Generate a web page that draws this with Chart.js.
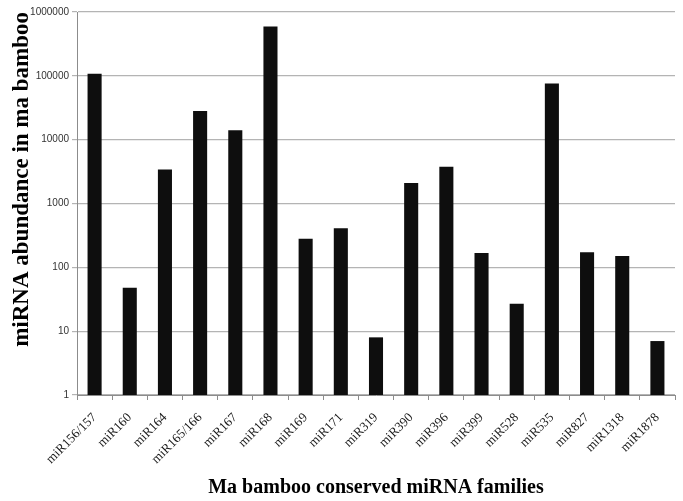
<!DOCTYPE html>
<html>
<head>
<meta charset="utf-8">
<script src="https://cdn.jsdelivr.net/npm/chart.js@4/dist/chart.umd.min.js"></script>
<style>
  html, body { margin: 0; padding: 0; background: #fff; }
  #wrap { width: 683px; height: 501px; }
</style>
</head>
<body>
<div id="wrap"><canvas id="mirnaChart"></canvas></div>
<script>
// miRNA families on the x axis
const families = ['miR156/157', 'miR160', 'miR164', 'miR165/166', 'miR167', 'miR168', 'miR169',
    'miR171', 'miR319', 'miR390', 'miR396', 'miR399', 'miR528', 'miR535', 'miR827', 'miR1318', 'miR1878'];

// abundance
const abundance = [108000, 48, 3400, 28000, 14000, 592000, 280,
    410, 8, 2100, 3750, 168, 27, 76000, 172, 151, 7];

// y ticks, one per decade
const yTicks = [1, 10, 100, 1000, 10000, 100000, 1000000];

const serif = '"Liberation Serif", "Times New Roman", serif';

const ctx = document.getElementById('mirnaChart').getContext('2d');
const chart = new Chart(ctx, {
    type: 'bar',
    data: {
        labels: families,
        datasets: [{
            label: 'abundance',
            data: abundance,
            backgroundColor: '#0e0e0e',
            borderWidth: 0,
            barPercentage: 0.4,
            categoryPercentage: 1.0
        }]
    },
    options: {
        responsive: true,
        maintainAspectRatio: false,
        animation: false,
        layout: { padding: { left: 8, right: 8, top: 12, bottom: 0 } },
        plugins: {
            legend: { display: false },
            tooltip: { enabled: false }
        },
        scales: {
            x: {
                grid: {
                    offset: true,
                    drawOnChartArea: false,
                    drawTicks: true,
                    tickLength: 5,
                    color: '#8c8c8c'
                },
                border: { color: '#8c8c8c', width: 1 },
                ticks: {
                    minRotation: 45,
                    maxRotation: 45,
                    autoSkip: false,
                    color: '#1a1a1a',
                    padding: 10,
                    font: { family: serif, size: 13 }
                },
                title: {
                    display: true,
                    text: 'Ma bamboo conserved miRNA families',
                    color: '#000',
                    font: { family: serif, size: 20, weight: 'bold' },
                    padding: { top: 2, bottom: 1 }
                },
                afterFit: scale => { scale.height = 106; }
            },
            y: {
                type: 'logarithmic',
                min: 1,
                max: 1000000,
                afterBuildTicks: scale => {
                    scale.ticks = yTicks.map(v => ({ value: v }));
                },
                grid: {
                    color: '#b4b4b4',
                    lineWidth: 1.2,
                    tickLength: 5
                },
                border: { color: '#8c8c8c', width: 1 },
                ticks: {
                    color: '#333',
                    padding: 3,
                    font: { family: '"Liberation Sans", Arial, sans-serif', size: 10 },
                    callback: value => String(value)
                },
                title: {
                    display: true,
                    align: 'end',
                    text: 'miRNA abundance in ma bamboo',
                    color: '#000',
                    font: { family: serif, size: 23, weight: 'bold' },
                    padding: { top: 0, bottom: 4 }
                },
                afterFit: scale => { scale.width = 69; }
            }
        }
    }
});
</script>
</body>
</html>
